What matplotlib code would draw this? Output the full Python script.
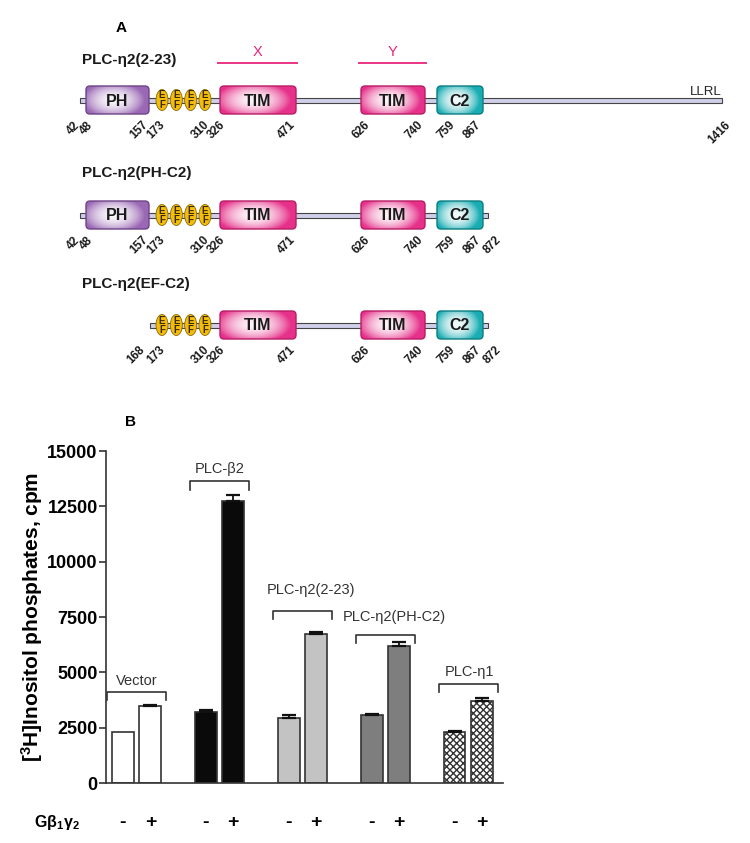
import numpy as np
import matplotlib
matplotlib.use("Agg")
import matplotlib.pyplot as plt
import matplotlib.colors as mcolors
from matplotlib.patches import FancyBboxPatch, Ellipse, Rectangle
from matplotlib.transforms import blended_transform_factory

plt.rcParams['font.family'] = ['Liberation Sans', 'DejaVu Sans']
plt.rcParams['mathtext.fontset'] = 'custom'
plt.rcParams['mathtext.rm'] = 'Liberation Sans'
plt.rcParams['mathtext.bf'] = 'Liberation Sans:bold'
plt.rcParams['mathtext.it'] = 'Liberation Sans:italic'
plt.rcParams['hatch.linewidth'] = 1.0

# ---------------- Panel A data ----------------
construct_names = ['PLC-η2(2-23)', 'PLC-η2(PH-C2)', 'PLC-η2(EF-C2)']
construct_start = [42, 42, 168]
construct_end = [1416, 872, 872]
domain_names = ['PH', 'EF', 'TIM', 'TIM', 'C2']
domain_start = [48, 173, 326, 626, 759]
domain_end = [157, 310, 471, 740, 867]
construct_domains = [[0, 1, 2, 3, 4], [0, 1, 2, 3, 4], [1, 2, 3, 4]]
construct_ticks = [
    [42, 48, 157, 173, 310, 326, 471, 626, 740, 759, 867, 1416],
    [42, 48, 157, 173, 310, 326, 471, 626, 740, 759, 867, 872],
    [168, 173, 310, 326, 471, 626, 740, 759, 867, 872],
]
region_names = ['X', 'Y']
region_domains = [2, 3]

# ---------------- Panel B data ----------------
groups = ['Vector', 'PLC-β2', 'PLC-η2(2-23)', 'PLC-η2(PH-C2)', 'PLC-η1']
minus_vals = [2300, 3200, 2950, 3050, 2300]
plus_vals = [3500, 12750, 6750, 6200, 3700]
minus_err = [0, 80, 100, 80, 70]
plus_err = [40, 250, 80, 150, 120]
yticks = [0, 2500, 5000, 7500, 10000, 12500, 15000]

# ---------------- layout / style ----------------
W, H = 750, 843
fig = plt.figure(figsize=(W / 100, H / 100), dpi=100)

# schematic scale (residue -> drawing units)
res_anchor = [42, 48, 157, 168, 173, 310, 326, 471, 626, 740, 759, 867, 872, 1416]
px_anchor = [80, 86, 149, 150, 155, 214, 220, 296, 361, 425, 437, 483, 488, 722]
def sx(r):
    return float(np.interp(r, res_anchor, px_anchor))
label_dx = {42: 2, 48: 9, 157: 1, 173: 12, 310: -2, 326: 8, 471: 2, 626: 11,
            740: 0, 759: 20, 867: 0, 872: 16, 168: -3, 1416: 11}

row_y = [100, 215, 325]
title_y = [60, 173, 284]
box_h = 28
domain_colors = {'PH': ('#9a68b4', '#6f4487'), 'TIM': ('#e6318a', '#b81d66'),
                 'C2': ('#18adb3', '#0c7d82')}

axA = fig.add_axes([0, 1 - 390 / H, 1, 390 / H])
axA.set_xlim(0, W)
axA.set_ylim(390, 0)
axA.axis('off')


def gradient_box(ax, x0, x1, yc, h, color, edge, label):
    patch = FancyBboxPatch((x0, yc - h / 2), x1 - x0, h,
                           boxstyle="round,pad=0,rounding_size=4",
                           fc='none', ec=edge, lw=1.0, zorder=4)
    ax.add_patch(patch)
    base = np.array(mcolors.to_rgb(color))
    u = np.linspace(-1, 1, 90)
    v = np.linspace(-1, 1, 40)
    U, V = np.meshgrid(u, v)
    d = np.sqrt(((U + 0.12) / 1.0) ** 2 + (V / 1.3) ** 2)
    wgt = 0.06 + 0.94 * np.clip(d, 0, 1) ** 1.9
    img = (1 - wgt)[..., None] * np.ones(3) + wgt[..., None] * base
    im = ax.imshow(img, extent=(x0, x1, yc + h / 2, yc - h / 2), aspect='auto',
                   interpolation='bilinear', zorder=3)
    im.set_clip_path(patch)
    ax.text((x0 + x1) / 2, yc + 1, label, ha='center', va='center',
            fontsize=11.5, fontweight='bold', color='#1a1a1a', zorder=5)


axA.text(121, 28, 'A', ha='center', va='center', fontsize=11, fontweight='bold')

for k, name in enumerate(construct_names):
    yc = row_y[k]
    axA.text(82, title_y[k], name, ha='left', va='center', fontsize=11,
             fontweight='bold', color='#1a1a1a')
    # backbone
    xs, xe = sx(construct_start[k]), sx(construct_end[k])
    axA.add_patch(Rectangle((xs, yc - 2.5), xe - xs, 5, fc='#cfcfea', ec='#444444',
                            lw=0.8, zorder=2))
    for di in construct_domains[k]:
        dn = domain_names[di]
        x0, x1 = sx(domain_start[di]), sx(domain_end[di])
        if dn == 'EF':
            centers = np.linspace(x0 + 7, x1 - 9, 4)
            for c in centers:
                axA.add_patch(Ellipse((c, yc), 12, 21, fc='#f4bd0c', ec='#8a6a00',
                                      lw=0.6, zorder=4))
                axA.text(c, yc - 4.5, 'E', ha='center', va='center', fontsize=7,
                         fontweight='bold', color='#3a2a00', zorder=5)
                axA.text(c, yc + 5, 'F', ha='center', va='center', fontsize=7,
                         fontweight='bold', color='#3a2a00', zorder=5)
        else:
            fc, ec = domain_colors[dn]
            gradient_box(axA, x0, x1, yc, box_h, fc, ec, dn)
    for r in construct_ticks[k]:
        axA.text(sx(r) + label_dx[r], yc + 19, str(r), rotation=45, ha='right',
                 va='top', fontsize=8.5, fontweight='bold', color='#1a1a1a')
    if k == 0:
        axA.text(xe, yc - 8, 'LLRL', ha='right', va='center', fontsize=9.5,
                 color='#222222')
        for rn, di in zip(region_names, region_domains):
            x0, x1 = sx(domain_start[di]), sx(domain_end[di])
            axA.plot([x0 - 3, x1 + 2], [63, 63], color='#e8247c', lw=1.3,
                     solid_capstyle='butt')
            axA.text((x0 + x1) / 2, 52, rn, ha='center', va='center',
                     fontsize=10.5, color='#e8247c')

# ---------------- Panel B ----------------
axB = fig.add_axes([106 / W, 60 / H, 397 / W, 332 / H])
x = np.arange(len(groups))
off, bw = 0.165, 0.265
bar_fc = ['white', '#0a0a0a', '#c3c3c3', '#7e7e7e', 'white']
bar_hatch = [None, None, None, None, 'xxxxx']
edge = '#333333'
for i in range(len(groups)):
    for xx, val, err in ((x[i] - off, minus_vals[i], minus_err[i]),
                         (x[i] + off, plus_vals[i], plus_err[i])):
        axB.bar(xx, val, width=bw, color=bar_fc[i], edgecolor=edge, lw=1.2,
                hatch=bar_hatch[i], zorder=2)
        if err > 0:
            axB.errorbar(xx, val, yerr=[[0], [err]], fmt='none', ecolor='#111111',
                         elinewidth=1.3, capsize=5, capthick=1.6, zorder=3)

# brackets and group labels
bracket_y = [4120, 13640, 7790, 6700, 4490]
label_xy = [(0.0, 4620), (1.0, 14180), (2.10, 8700), (3.11, 7520), (4.02, 5030)]
drop = 380
half = 0.355
for i, g in enumerate(groups):
    yb = bracket_y[i]
    axB.plot([x[i] - half, x[i] - half, x[i] + half, x[i] + half],
             [yb - drop, yb, yb, yb - drop], color='#333333', lw=1.2,
             clip_on=False, zorder=4)
    axB.text(label_xy[i][0], label_xy[i][1], g, ha='center', va='center',
             fontsize=10.5, color='#333333', clip_on=False)

axB.set_xlim(-0.37, 4.42)
axB.set_ylim(0, 15000)
for s in ('top', 'right'):
    axB.spines[s].set_visible(False)
for s in ('left', 'bottom'):
    axB.spines[s].set_linewidth(1.2)
    axB.spines[s].set_color('#333333')
axB.set_yticks(yticks)
axB.set_yticklabels([str(t) for t in yticks], fontsize=13, fontweight='bold')
axB.tick_params(axis='y', length=5, width=1.2, color='#333333', pad=1)
axB.set_xticks([])

tr = blended_transform_factory(axB.transData, axB.transAxes)
for i in range(len(groups)):
    axB.text(x[i] - off, -0.12, '-', transform=tr, ha='center', va='center',
             fontsize=14, fontweight='bold')
    axB.text(x[i] + off, -0.12, '+', transform=tr, ha='center', va='center',
             fontsize=14, fontweight='bold')

fig.text(57 / W, 1 - 823 / H, r'Gβ$_{\mathbf{1}}$γ$_{\mathbf{2}}$', ha='center',
         va='center', fontsize=11.5, fontweight='bold')
fig.text(32 / W, 1 - 617 / H, r'[$^{\mathbf{3}}$H]Inositol phosphates, cpm',
         rotation=90, ha='center', va='center', fontsize=15, fontweight='bold')
fig.text(130 / W, 1 - 422 / H, 'B', ha='center', va='center', fontsize=11,
         fontweight='bold')

fig.savefig('out.png', dpi=100)
